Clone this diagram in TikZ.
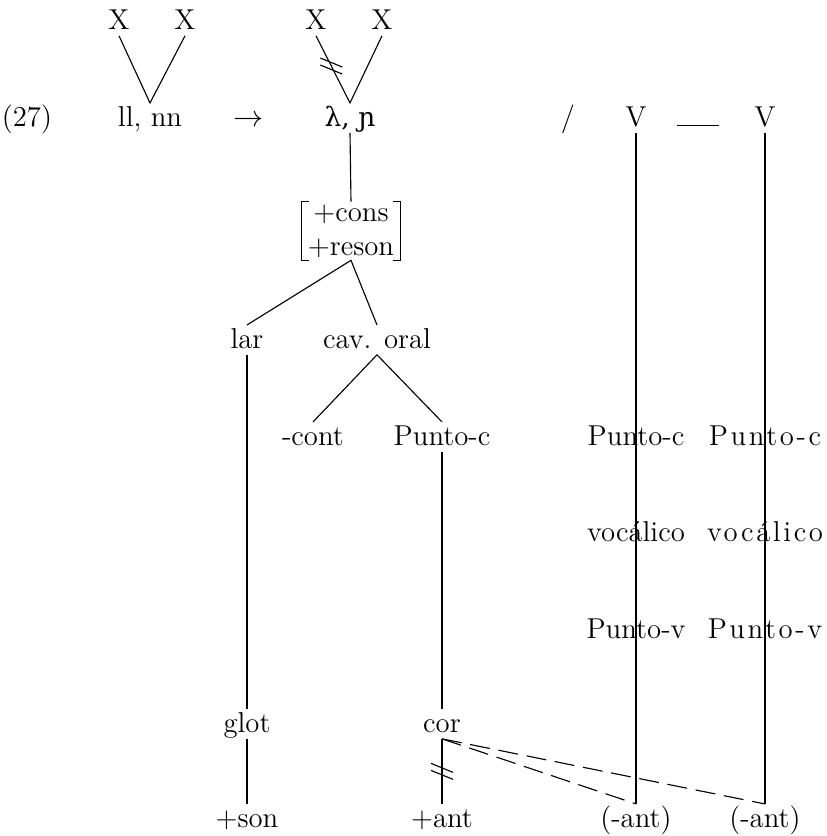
\documentclass[tikz,border=0pt]{standalone}
\usepackage{fontspec}
\newfontfamily\ipafont[Scale=0.92]{DejaVu Serif}
\newfontfamily\widefont[LetterSpace=9]{Latin Modern Roman}
\newcommand\nodefont{\fontsize{11.5}{13.5}\selectfont}
% two short strokes across a line (delinking)
\newcommand\twocut[1]{\draw ([shift={(-11,-8)}]#1) -- ++(22,9) ([shift={(-11,-1)}]#1) -- ++(22,9);}
\tikzset{
	lab/.style={anchor=base, inner sep=1pt, text height=8pt, text depth=1.5pt, font=\nodefont},
	wide/.style={lab, font=\widefont\nodefont},
	spread/.style={dash pattern=on 8pt off 3.5pt},
}

\begin{document}
\begin{tikzpicture}[x=0.4pt, y=-0.4pt, line width=0.45pt]
	\useasboundingbox (0,0) rectangle (827,836);
	
	% rule line
	\node[lab] (num) at (27,126) {(27)};
	\node[lab] (xa) at (119,29) {X};
	\node[lab] (xb) at (185,29) {X};
	\node[lab] (llnn) at (150,126) {ll, nn};
	\node[lab] (arr) at (249,126) {$\rightarrow$};
	\node[lab] (xc) at (316,29) {X};
	\node[lab] (xd) at (382,29) {X};
	\node[lab] (lam) at (350,126) {\ipafont λ, ɲ};
	\node[lab] (slash) at (568,126) {/};
	\node[lab] (va) at (636,126) {V};
	\node[lab] (blank) at (698,126) {\rule{17pt}{0.5pt}};
	\node[lab] (vb) at (765,126) {V};
	
	% feature tree
	\node[font=\nodefont, align=center, inner xsep=2.5pt, inner ysep=1pt] (feat) at (351,231) {+cons\\+reson};
	\node[lab] (lar) at (247,348) {lar};
	\node[lab] (cav) at (377,348) {cav. oral};
	\node[lab] (cont) at (313,445) {-cont};
	\node[lab] (pc) at (442,445) {Punto-c};
	\node[lab] (glot) at (247,732) {glot};
	\node[lab] (cor) at (442,732) {cor};
	\node[lab] (son) at (247,827) {+son};
	\node[lab] (plant) at (442,827) {+ant};
	
	% vowels
	\node[lab] (pcA) at (636,445) {Punto-c};
	\node[lab] (vocA) at (636,541) {vocálico};
	\node[lab] (pvA) at (636,638) {Punto-v};
	\node[lab] (antA) at (636,827) {(-ant)};
	\node[wide] (pcB) at (765,445) {Punto-c};
	\node[wide] (vocB) at (765,541) {vocálico};
	\node[wide] (pvB) at (765,638) {Punto-v};
	\node[lab] (antB) at (765,827) {(-ant)};
	
	% brackets
	\draw ([xshift=3pt]feat.north west) -- (feat.north west) -- (feat.south west) -- ([xshift=3pt]feat.south west);
	\draw ([xshift=-3pt]feat.north east) -- (feat.north east) -- (feat.south east) -- ([xshift=-3pt]feat.south east);
	
	% association lines
	\draw (xa.south) -- (llnn.north) -- (xb.south);
	\draw (xc.south) -- (lam.north) -- (xd.south);
	\path (xc.south) -- coordinate[pos=.45] (cutx) (lam.north);
	\twocut{cutx}
	\draw (lam.south) -- (feat.north);
	\draw (lar.north) -- (feat.south) -- (cav.north);
	\draw (cont.north) -- (cav.south) -- (pc.north);
	\draw (lar.south) -- (glot.north);
	\draw (glot.south) -- (son.north);
	\draw (pc.south) -- (cor.north);
	\draw (cor.south) -- (plant.north);
	\path (cor.south) -- coordinate[pos=.5] (cutc) (plant.north);
	\twocut{cutc}
	\draw (va.south) -- (antA.north);
	\draw (vb.south) -- (antB.north);
	\draw[spread] (cor.south) -- (antA.north);
	\draw[spread] (cor.south) -- (antB.north);
	
\end{tikzpicture}
\end{document}
